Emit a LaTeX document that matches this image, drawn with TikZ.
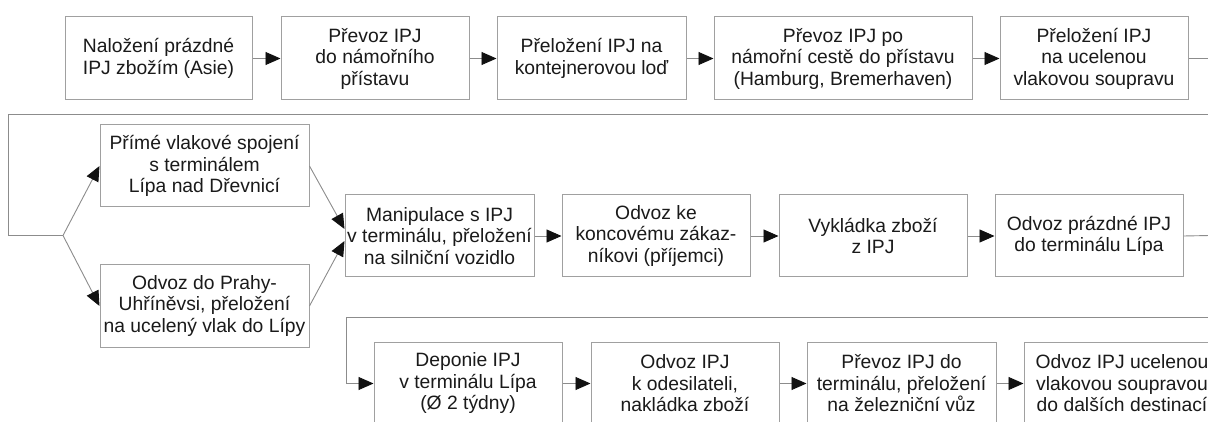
\documentclass[tikz,border=0pt]{standalone}
\usepackage{fontspec}
\setmainfont{Liberation Sans}
\usetikzlibrary{arrows.meta}
\definecolor{boxc}{HTML}{A0A0A0}
\definecolor{linec}{HTML}{8C8C8C}
\definecolor{txt}{HTML}{1A1A1A}
\definecolor{tipc}{HTML}{111111}
\tikzset{
  box/.style={draw=boxc, line width=1pt, text=txt, align=center,
    font=\fontsize{19.3}{21.5}\selectfont, inner sep=0pt, minimum height=83pt},
  conn/.style={draw=linec, line width=0.9pt},
  arr/.style={conn, -{Triangle[length=15pt,width=13pt,color=tipc]}}
}
\begin{document}
\begin{tikzpicture}[x=1pt,y=-1pt]
\useasboundingbox (0,0) rectangle (1208,422);
\fill[white] (0,0) rectangle (1208,422);
\clip (0,0) rectangle (1208,422);
% row 1
\node[box, minimum width=187pt] (b1) at (158.5,58.5) {Naložení prázdné\\IPJ zbožím (Asie)};
\node[box, minimum width=188pt] (b2) at (375,58.5) {Převoz IPJ\\do námořního\\přístavu};
\node[box, minimum width=189pt] (b3) at (591.5,58.5) {Přeložení IPJ na\\kontejnerovou loď};
\node[box, minimum width=258pt] (b4) at (843,58.5) {Převoz IPJ po\\námořní cestě do přístavu\\(Hamburg, Bremerhaven)};
\node[box, minimum width=188pt] (b5) at (1094,58.5) {Přeložení IPJ\\na ucelenou\\vlakovou soupravu};
% row 2
\node[box, minimum width=209pt, minimum height=82pt] (a1) at (204.5,166) {Přímé vlakové spojení\\s terminálem\\Lípa nad Dřevnicí};
\node[box, minimum width=209pt, minimum height=82pt] (a2) at (204.5,306) {Odvoz do Prahy-\\Uhříněvsi, přeložení\\na ucelený vlak do Lípy};
\node[box, minimum width=189pt, minimum height=82pt] (m1) at (439.5,236) {Manipulace s IPJ\\v terminálu, přeložení\\na silniční vozidlo};
\node[box, minimum width=188pt, minimum height=82pt] (m2) at (656,236) {Odvoz ke\\koncovému zákaz-\\níkovi (příjemci)};
\node[box, minimum width=188pt, minimum height=82pt] (m3) at (873,236) {Vykládka zboží\\z IPJ};
\node[box, minimum width=188pt, minimum height=82pt] (m4) at (1089,236) {Odvoz prázdné IPJ\\do terminálu Lípa};
% row 3
\node[box, minimum width=188pt] (d1) at (468,383.5) {Deponie IPJ\\v terminálu Lípa\\(Ø 2 týdny)};
\node[box, minimum width=188pt] (d2) at (685,383.5) {Odvoz IPJ\\k odesilateli,\\nakládka zboží};
\node[box, minimum width=189pt] (d3) at (901.5,383.5) {Převoz IPJ do\\terminálu, přeložení\\na železniční vůz};
\node[box, minimum width=196pt] (d4) at (1122,383.5) {Odvoz IPJ ucelenou\\vlakovou soupravou\\do dalších destinací};
% coordinates
\coordinate (r1) at (1210,58.5);
\coordinate (r2) at (1210,114.5);
\coordinate (l2) at (8,114.5);
\coordinate (l3) at (8,235.5);
\coordinate (fork) at (63,235.5);
\coordinate (r3) at (1210,235.5);
\coordinate (r4) at (1210,317);
\coordinate (l4) at (346,317);
% connectors
\draw[arr] (b1) -- (b2);
\draw[arr] (b2) -- (b3);
\draw[arr] (b3) -- (b4);
\draw[arr] (b4) -- (b5);
\draw[conn] (b5.east) -- (r1);
\draw[conn] (r2) -- (l2) -- (l3) -- (fork);
\draw[arr] (fork) -- (a1.west);
\draw[arr] (fork) -- (a2.west);
\draw[arr] (a1.east) -- ([yshift=7pt]m1.west);
\draw[arr] (a2.east) -- ([yshift=-5pt]m1.west);
\draw[arr] (m1) -- (m2);
\draw[arr] (m2) -- (m3);
\draw[arr] (m3) -- (m4);
\draw[conn] (m4.east) -- (r3);
\draw[arr] (r4) -- (l4) |- (d1.west);
\draw[arr] (d1) -- (d2);
\draw[arr] (d2) -- (d3);
\draw[arr] (d3) -- (d4);
\end{tikzpicture}
\end{document}
